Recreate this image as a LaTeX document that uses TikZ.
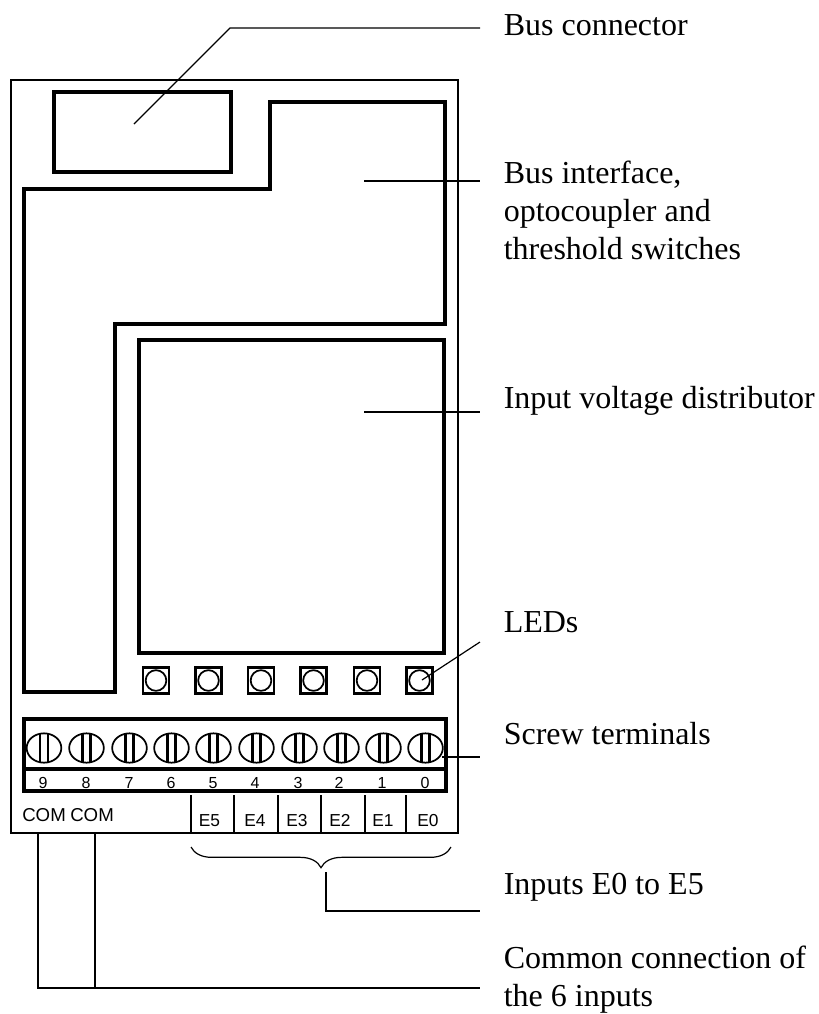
\documentclass[tikz,border=0pt]{standalone}
\usepackage{fontspec}
\setmainfont{Liberation Serif}
\setsansfont{Liberation Sans}
\usetikzlibrary{shapes.geometric,decorations.pathreplacing}
\tikzset{
  casing/.style={draw=black, line width=0.9pt},
  blk/.style={draw=black, line width=2.6pt},
  ldr/.style={draw=black, line width=0.9pt},
  ledbox/.style={draw=black, line width=1.6pt, minimum size=19.5pt, inner sep=0pt},
  ledlamp/.style={circle, draw=black, line width=1.3pt, minimum size=15.5pt, inner sep=0pt},
  screw/.style={ellipse, draw=black, line width=1.3pt, minimum width=26pt, minimum height=22pt, inner sep=0pt},
  slot/.style={draw=black, line width=1.6pt},
  lab/.style={anchor=base west, font=\fontsize{24}{28.5}\selectfont, align=left, inner sep=0pt},
  tiny/.style={anchor=base, font=\sffamily\fontsize{12}{14}\selectfont, inner sep=0pt},
  elab/.style={anchor=base, font=\sffamily\fontsize{13}{15}\selectfont, inner sep=0pt},
  clab/.style={anchor=base west, font=\sffamily\fontsize{14}{16}\selectfont, inner sep=0pt},
}
\begin{document}
\begin{tikzpicture}[x=0.75pt, y=-0.75pt]
  \useasboundingbox (0,0) rectangle (818,1014);
  % casing and blocks
  \draw[casing] (11,80) rectangle (458,833);
  \draw[blk] (54,92) rectangle (231,172);
  \draw[blk] (270,102) -- (445,102) -- (445,324) -- (115,324) -- (115,692)
       -- (24,692) -- (24,189) -- (270,189) -- cycle;
  \draw[blk] (139,340) rectangle (444,653);
  % leds
  \foreach \x in {156,208.5,261,313.5,367,419.5} {
    \node[ledbox] (box\x) at (\x,680.5) {};
    \node[ledlamp] (led\x) at (\x,680.5) {};
  }
  % terminal strip
  \draw[blk] (24,719) rectangle (446,791);
  \draw[blk] (24,769) -- (446,769);
  \foreach \x/\n/\d in {44/9/43,86.5/8/86,129.5/7/129,171.5/6/171,213.5/5/213,256.5/4/255,299.5/3/298,341.5/2/339,383.5/1/382,425.5/0/425} {
    \node[screw] (scr\n) at (\x,748) {};
    \draw[slot] (\x-4,733) -- (\x-4,763);
    \draw[slot] (\x+4,733) -- (\x+4,763);
    \node[tiny] (num\n) at (\d,788) {\n};
  }
  % input cells
  \foreach \x in {191,234,278,321,365,406}
    \draw[casing] (\x,795) -- (\x,833);
  \foreach \x/\n in {209.5/5,255/4,297/3,340/2,383/1,428/0}
    \node[elab] (ein\n) at (\x,826) {E\n};
  \node[clab] (com1) at (22,821) {COM};
  \node[clab] (com2) at (70,821) {COM};
  \draw[casing, decorate, decoration={brace, mirror, amplitude=15.5pt, aspect=0.5}]
       (191,847) -- (451,847);
  % labels
  \node[lab] (tbus) at (503.5,35) {Bus connector};
  \node[lab] (tiface) at (503.5,259) {Bus interface,\\optocoupler and\\threshold switches};
  \node[lab] (tdist) at (503.5,408) {Input voltage distributor};
  \node[lab] (tled) at (503.5,632) {LEDs};
  \node[lab] (tscrew) at (503.5,744) {Screw terminals};
  \node[lab] (tinp) at (503.5,894) {Inputs E0 to E5};
  \node[lab] (tcom) at (503.5,1006) {Common connection of\\the 6 inputs};
  % leaders
  \coordinate (pbus) at (134,124);
  \coordinate (ebus) at (480,28);
  \coordinate (piface) at (364,181);
  \coordinate (eiface) at (480,181);
  \coordinate (pdist) at (364,412);
  \coordinate (edist) at (480,412);
  \coordinate (pled) at (422,680);
  \coordinate (eled) at (480,642);
  \coordinate (pscrew) at (442,757);
  \coordinate (escrew) at (480,757);
  \coordinate (pinp) at (326,872);
  \coordinate (einp) at (480,911);
  \coordinate (pcoma) at (38,833);
  \coordinate (pcomb) at (95,833);
  \coordinate (ecom) at (480,988);
  \draw[ldr] (pbus) -- (230,28) -- (ebus);
  \draw[ldr] (piface) -- (eiface);
  \draw[ldr] (pdist) -- (edist);
  \draw[ldr] (pled) -- (eled);
  \draw[ldr] (pscrew) -- (escrew);
  \draw[ldr] (pinp) |- (einp);
  \draw[ldr] (pcoma) |- (ecom);
  \draw[ldr] (pcomb) -- (pcomb |- ecom);
\end{tikzpicture}
\end{document}
